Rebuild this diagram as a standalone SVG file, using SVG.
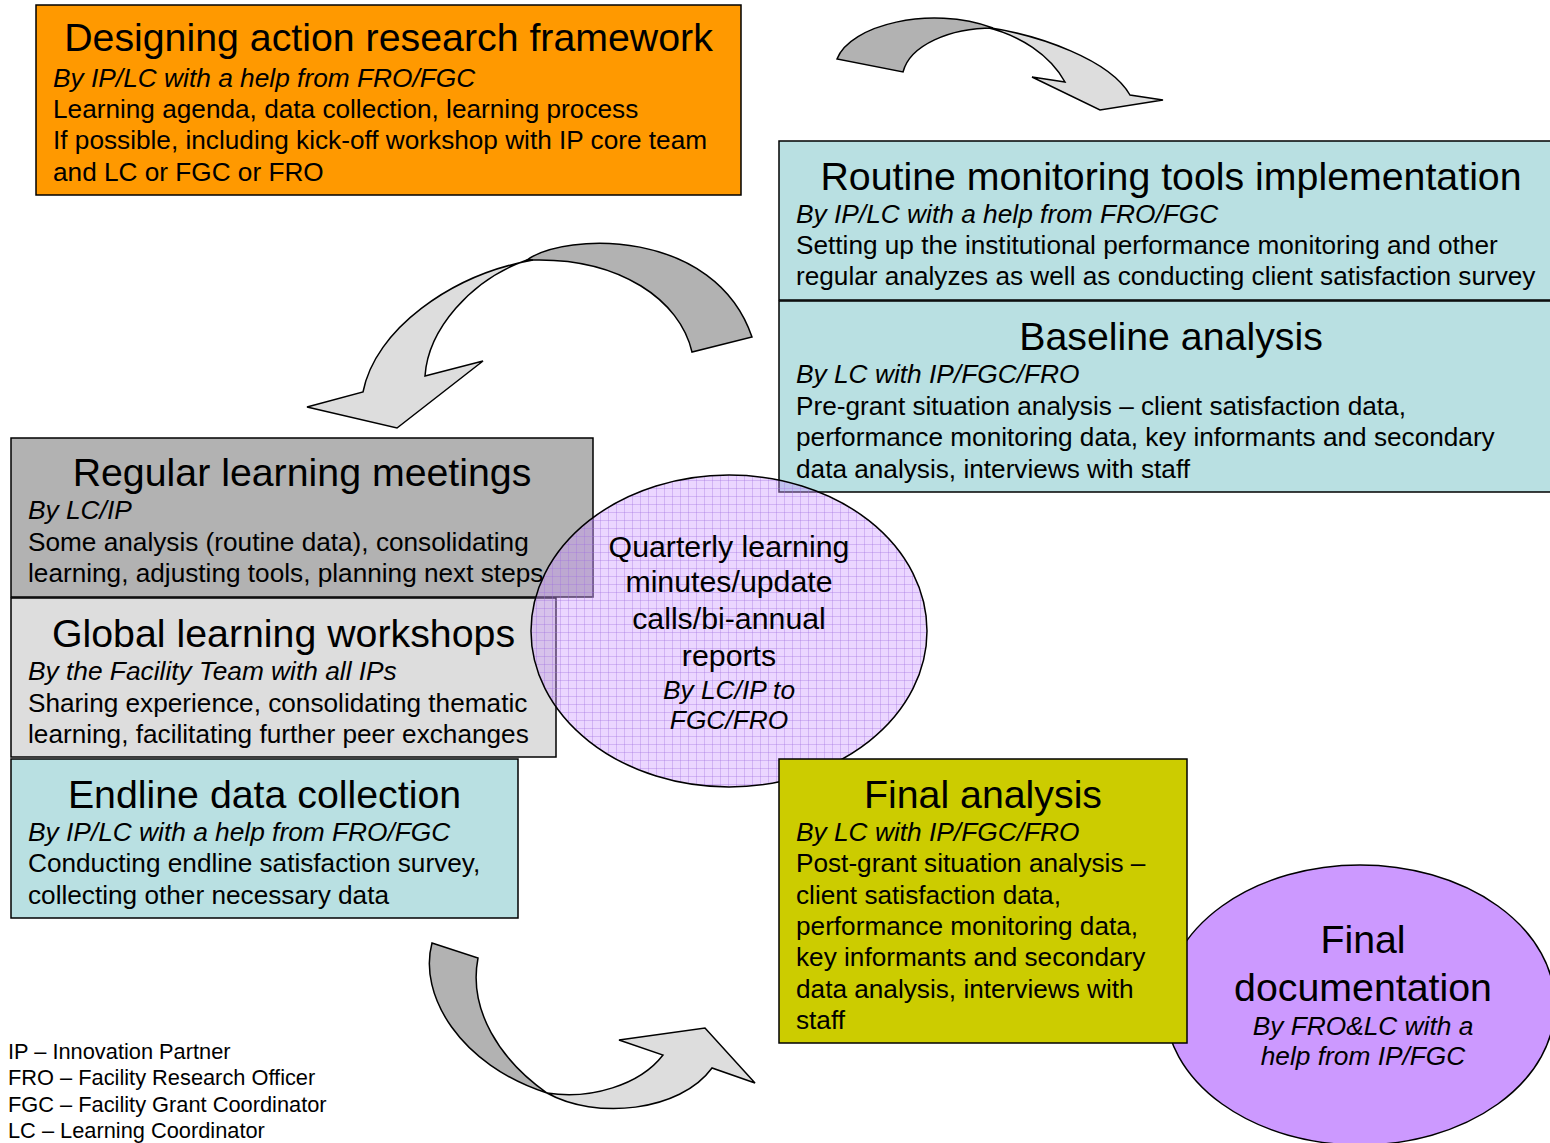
<svg xmlns="http://www.w3.org/2000/svg" width="1550" height="1143" viewBox="0 0 1550 1143">
<defs>
<style>
.box{stroke:#000;stroke-width:1.5}
.t{font-family:"Liberation Sans",Arial,sans-serif;fill:#000}
.title{font-size:39.3px;text-anchor:middle}
.body{font-size:26.2px}
.it{font-size:26.3px;font-style:italic}
.mid{text-anchor:middle}
.dark{fill:#B2B2B2;stroke:#000;stroke-width:1.5;stroke-linejoin:miter}
.light{fill:#DDDDDD;stroke:#000;stroke-width:1.5;stroke-linejoin:miter}
.leg{font-size:21.8px}
</style>
<pattern id="grid" width="8" height="8" patternUnits="userSpaceOnUse">
<rect width="8" height="8" fill="#CC99FF" fill-opacity="0.4"/>
<path d="M0,0.5H8M0.5,0V8" stroke="#A070E0" stroke-opacity="0.35" stroke-width="1"/>
</pattern>
</defs>
<rect width="1550" height="1143" fill="#fff"/>

<g id="final-documentation">
<ellipse cx="1360" cy="1005" rx="195" ry="140" fill="#CC99FF" stroke="#000" stroke-width="1.5"/>
<text class="t mid" x="1363" y="953" font-size="39.3">Final</text>
<text class="t mid" x="1363" y="1001" font-size="39.3">documentation</text>
<text class="t it mid" x="1363" y="1035">By FRO&amp;LC with a</text>
<text class="t it mid" x="1363" y="1065">help from IP/FGC</text>
</g>

<g id="designing">
<rect class="box" x="36" y="5" width="705" height="190" fill="#FF9900"/>
<text class="t title" x="388.5" y="51">Designing action research framework</text>
<text class="t it" x="53" y="87">By IP/LC with a help from FRO/FGC</text>
<text class="t body" x="53" y="118">Learning agenda, data collection, learning process</text>
<text class="t body" x="53" y="149">If possible, including kick-off workshop with IP core team</text>
<text class="t body" x="53" y="181">and LC or FGC or FRO</text>
</g>

<g id="routine">
<rect class="box" x="779" y="141" width="790" height="159" fill="#B9E0E2"/>
<text class="t title" x="1171" y="190">Routine monitoring tools implementation</text>
<text class="t it" x="796" y="223">By IP/LC with a help from FRO/FGC</text>
<text class="t body" x="796" y="254">Setting up the institutional performance monitoring and other</text>
<text class="t body" x="796" y="285">regular analyzes as well as conducting client satisfaction survey</text>
</g>

<g id="baseline">
<rect class="box" x="779" y="301" width="790" height="191" fill="#B9E0E2"/>
<text class="t title" x="1171" y="350">Baseline analysis</text>
<text class="t it" x="796" y="383">By LC with IP/FGC/FRO</text>
<text class="t body" x="796" y="415">Pre-grant situation analysis – client satisfaction data,</text>
<text class="t body" x="796" y="446">performance monitoring data, key informants and secondary</text>
<text class="t body" x="796" y="478">data analysis, interviews with staff</text>
</g>

<g id="regular-learning">
<rect class="box" x="11" y="438" width="582" height="159" fill="#B2B2B2"/>
<text class="t title" x="302" y="486">Regular learning meetings</text>
<text class="t it" x="28" y="519">By LC/IP</text>
<text class="t body" x="28" y="551">Some analysis (routine data), consolidating</text>
<text class="t body" x="28" y="582">learning, adjusting tools, planning next steps</text>
</g>

<g id="global-workshops">
<rect class="box" x="11" y="598" width="545" height="159" fill="#DDDDDD"/>
<text class="t title" x="283.5" y="647">Global learning workshops</text>
<text class="t it" x="28" y="680">By the Facility Team with all IPs</text>
<text class="t body" x="28" y="712">Sharing experience, consolidating thematic</text>
<text class="t body" x="28" y="743">learning, facilitating further peer exchanges</text>
</g>

<g id="endline">
<rect class="box" x="11" y="759" width="507" height="159" fill="#B9E0E2"/>
<text class="t title" x="264.5" y="808">Endline data collection</text>
<text class="t it" x="28" y="841">By IP/LC with a help from FRO/FGC</text>
<text class="t body" x="28" y="872">Conducting endline satisfaction survey,</text>
<text class="t body" x="28" y="904">collecting other necessary data</text>
</g>

<g id="connectors">
<path class="light" d="M985,27 C1040,35 1110,60 1130,95 L1163,100 L1100,110 L1032,77 L1065,82 C1050,55 1020,35 985,27 Z"/>
<path class="dark" d="M837,59 C850,25 930,5 993,28 C950,28 910,45 903,72 Z"/>
<path class="dark" d="M527,260 C565,232 715,228 752,337 L692,352 C680,300 620,258 533,260 Z"/>
<path class="light" d="M533,260 C450,275 375,330 363,392 L307,407 L397,428 L483,361 L425,376 C428,330 470,280 527,260 Z"/>
<path class="dark" d="M432,943 C418,995 460,1065 547,1093 C500,1060 468,1010 478,958 Z"/>
<path class="light" d="M547,1093 C595,1120 680,1112 712,1068 L755,1083 L705,1028 L619,1040 L663,1055 C640,1085 590,1100 547,1093 Z"/>
</g>

<g id="quarterly">
<ellipse cx="729" cy="631" rx="198" ry="156" fill="url(#grid)" stroke="#000" stroke-width="1.5"/>
<text class="t mid" x="729" y="557" font-size="30.3">Quarterly learning</text>
<text class="t mid" x="729" y="592" font-size="30.3">minutes/update</text>
<text class="t mid" x="729" y="629" font-size="30.3">calls/bi-annual</text>
<text class="t mid" x="729" y="666" font-size="30.3">reports</text>
<text class="t it mid" x="729" y="699">By LC/IP to</text>
<text class="t it mid" x="729" y="729">FGC/FRO</text>
</g>

<g id="final-analysis">
<rect class="box" x="779" y="759" width="408" height="284" fill="#CCCC00"/>
<text class="t title" x="983" y="808">Final analysis</text>
<text class="t it" x="796" y="841">By LC with IP/FGC/FRO</text>
<text class="t body" x="796" y="872">Post-grant situation analysis –</text>
<text class="t body" x="796" y="904">client satisfaction data,</text>
<text class="t body" x="796" y="935">performance monitoring data,</text>
<text class="t body" x="796" y="966">key informants and secondary</text>
<text class="t body" x="796" y="998">data analysis, interviews with</text>
<text class="t body" x="796" y="1029">staff</text>
</g>

<g id="legend">
<text class="t leg" x="8" y="1059">IP – Innovation Partner</text>
<text class="t leg" x="8" y="1085">FRO – Facility Research Officer</text>
<text class="t leg" x="8" y="1112">FGC – Facility Grant Coordinator</text>
<text class="t leg" x="8" y="1138">LC – Learning Coordinator</text>
</g>
</svg>
